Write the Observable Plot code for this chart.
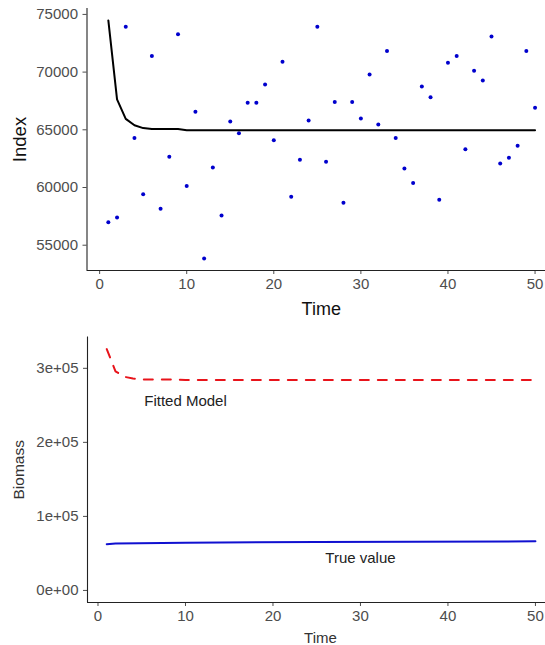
<!DOCTYPE html>
<html>
<head>
<meta charset="utf-8">
<script src="https://cdn.jsdelivr.net/npm/d3@7"></script>
<script src="https://cdn.jsdelivr.net/npm/@observablehq/plot@0.6"></script>
<style>
  html, body { margin: 0; padding: 0; background: #fff; }
  #chart svg { display: block; }
</style>
</head>
<body>
<div id="chart"></div>
<script>
// ---------- data ----------
const time = [1,2,3,4,5,6,7,8,9,10,11,12,13,14,15,16,17,18,19,20,21,22,23,24,25,
              26,27,28,29,30,31,32,33,34,35,36,37,38,39,40,41,42,43,44,45,46,47,48,49,50];
const observedIndex = [57000,57400,73930,64280,59420,71390,58150,62660,73270,60120,
                       66560,53840,61730,57570,65720,64710,67340,67340,68930,64100,
                       70900,59190,62400,65810,73930,62230,67400,58670,67400,65980,
                       69800,65460,71820,64280,61650,60380,68760,67830,58930,70810,
                       71390,63320,70120,69280,73090,62080,62570,63610,71820,66910];
const fittedIndex = [74480,67630,65950,65400,65150,65070,65070,65070,65070,64970,
                     64970,64970,64970,64970,64970,64970,64970,64970,64970,64970,
                     64970,64970,64970,64970,64970,64970,64970,64970,64970,64970,
                     64970,64970,64970,64970,64970,64970,64970,64970,64970,64970,
                     64970,64970,64970,64970,64970,64970,64970,64970,64970,64970];
const fittedBiomass = [326000,296000,288600,286200,285100,284800,284800,284800,284800,284300,
                       284300,284300,284300,284300,284300,284300,284300,284300,284300,284300,
                       284300,284300,284300,284300,284300,284300,284300,284300,284300,284300,
                       284300,284300,284300,284300,284300,284300,284300,284300,284300,284300,
                       284300,284300,284300,284300,284300,284300,284300,284300,284300,284300];
const trueTime = [1, 2, 10, 25, 50];
const trueBiomass = [62500, 63400, 64300, 65500, 66300];

const timeTicks = [0, 10, 20, 30, 40, 50];
const indexTicks = [55000, 60000, 65000, 70000, 75000];
const biomassTicks = [0, 100000, 200000, 300000];
const biomassTickLabels = ["0e+00", "1e+05", "2e+05", "3e+05"];
const labelText = ["Fitted Model", "True value"];
const labelTime = [10, 30];
const labelBiomass = [255000, 43000];

// ---------- tables ----------
const obsRows = time.map((t, i) => ({t, v: observedIndex[i]}));
const fitRows = time.map((t, i) => ({t, v: fittedIndex[i]}));
const fitBioRows = time.map((t, i) => ({t, v: fittedBiomass[i]}));
const trueRows = trueTime.map((t, i) => ({t, v: trueBiomass[i]}));
const labelRows = labelText.map((s, i) => ({s, t: labelTime[i], v: labelBiomass[i]}));

const FONT = "'Liberation Sans', Arial, Helvetica, sans-serif";
const TICKC = "#4d4d4d";

// ---------- top panel ----------
const xDomTop = [-1.45, 51.2];
const yDomTop = [52808, 75512];
const topChart = Plot.plot({
  width: 545, height: 325,
  marginLeft: 86.5, marginRight: 0, marginTop: 8, marginBottom: 55,
  style: {fontFamily: FONT, fontSize: "15px", background: "white", overflow: "visible"},
  x: {domain: xDomTop},
  y: {domain: yDomTop},
  marks: [
    Plot.axisX({ticks: timeTicks, tickSize: 4, tickPadding: 4, fontSize: 15, color: TICKC, label: null}),
    Plot.axisY({ticks: indexTicks, tickSize: 4, tickPadding: 5, fontSize: 15, color: TICKC, label: null, tickFormat: d3.format("d")}),
    Plot.ruleX([xDomTop[0]], {stroke: "#222", strokeWidth: 1.1}),
    Plot.ruleY([yDomTop[0]], {stroke: "#222", strokeWidth: 1.1}),
    Plot.dot(obsRows, {x: "t", y: "v", r: 2, fill: "#0000CD", stroke: null}),
    Plot.line(fitRows, {x: "t", y: "v", stroke: "black", strokeWidth: 2}),
    Plot.text(["Index"], {frameAnchor: "left", rotate: -90, dx: -66.5, fontSize: 18.5, fill: "#111", textAnchor: "middle", lineAnchor: "middle"}),
    Plot.text(["Time"], {frameAnchor: "bottom", dy: 38.3, dx: 5, fontSize: 18, fill: "#111", lineAnchor: "middle"})
  ]
});

// ---------- bottom panel ----------
const xDomBot = [-1.2, 51.15];
const yDomBot = [-16300, 342300];
const bottomChart = Plot.plot({
  width: 545, height: 320,
  marginLeft: 87, marginRight: 0, marginTop: 11.5, marginBottom: 43,
  style: {fontFamily: FONT, fontSize: "15px", background: "white", overflow: "visible"},
  x: {domain: xDomBot},
  y: {domain: yDomBot},
  marks: [
    Plot.axisX({ticks: timeTicks, tickSize: 4, tickPadding: 4, fontSize: 15, color: TICKC, label: null}),
    Plot.axisY({ticks: biomassTicks, tickSize: 4, tickPadding: 5, fontSize: 15, color: TICKC, label: null,
                tickFormat: (d) => biomassTickLabels[biomassTicks.indexOf(d)]}),
    Plot.ruleX([xDomBot[0]], {stroke: "#222", strokeWidth: 1.1}),
    Plot.ruleY([yDomBot[0]], {stroke: "#222", strokeWidth: 1.1}),
    Plot.line(fitBioRows, {x: "t", y: "v", stroke: "#E8141B", strokeWidth: 2, strokeDasharray: "9,9"}),
    Plot.line(trueRows, {x: "t", y: "v", stroke: "#1010D0", strokeWidth: 2}),
    Plot.text(labelRows, {x: "t", y: "v", text: "s", fontSize: 15, fill: "#222"}),
    Plot.text(["Biomass"], {frameAnchor: "left", rotate: -90, dx: -68, fontSize: 15.5, fill: "#333", textAnchor: "middle", lineAnchor: "middle"}),
    Plot.text(["Time"], {frameAnchor: "bottom", dy: 35.5, dx: 4, fontSize: 15, fill: "#333", lineAnchor: "middle"})
  ]
});

const root = document.getElementById("chart");
root.appendChild(topChart);
root.appendChild(bottomChart);
</script>
</body>
</html>
